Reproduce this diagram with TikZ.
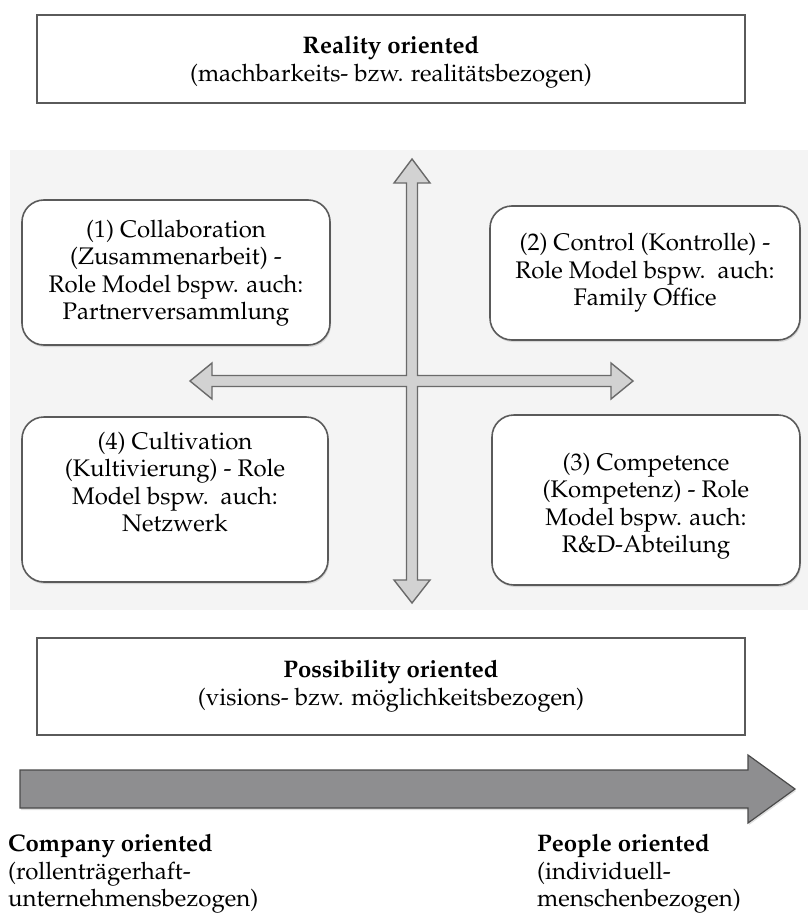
\documentclass[tikz,border=0pt]{standalone}
\usepackage[T1]{fontenc}
\usepackage{mathpazo}
\usetikzlibrary{shadows}
\definecolor{boxgray}{HTML}{5A5A5A}
\definecolor{panelgray}{HTML}{F4F4F4}
\definecolor{crossfill}{HTML}{D2D2D2}
\definecolor{crossline}{HTML}{6A6A6A}
\definecolor{bigfill}{HTML}{8E8E90}
\definecolor{bigline}{HTML}{4A4A4A}
\begin{document}
\begin{tikzpicture}[x=1pt,y=-1pt,
  every node/.style={font=\fontsize{24}{27.5}\selectfont, align=center, inner sep=0pt},
  plainbox/.style={draw=boxgray, line width=1.6pt, fill=white},
  roundbox/.style={draw=boxgray, line width=1.6pt, rounded corners=22pt, fill=white,
    drop shadow={shadow xshift=1pt, shadow yshift=-2pt, opacity=0.25}},
  crossarrow/.style={draw=crossline, line width=1.4pt, fill=crossfill, line join=miter},
  bigarrow/.style={draw=bigline, line width=1.2pt, fill=bigfill}]
\useasboundingbox (0,0) rectangle (808,915);
% panel
\fill[panelgray] (10,150) rectangle (808,610);
% top box
\node[plainbox, minimum width=708pt, minimum height=88pt] (topbox) at (391,59) {};
\node (toptext) at (391,62) {\textbf{Reality oriented}\\(machbarkeits- bzw. realit\"atsbezogen)};
% cross arrows
\draw[crossarrow] (412,159) -- (430,183) -- (417.5,183) -- (417.5,375.5) -- (611,375.5) -- (611,363) -- (633,381) -- (611,399) -- (611,386.5) -- (417.5,386.5) -- (417.5,580) -- (430,580) -- (412,603) -- (394,580) -- (406.5,580) -- (406.5,386.5) -- (212,386.5) -- (212,399) -- (190,381) -- (212,363) -- (212,375.5) -- (406.5,375.5) -- (406.5,183) -- (394,183) -- cycle;
% quadrant boxes
\node[roundbox, minimum width=308pt, minimum height=145pt] (c1) at (176,272.5) {};
\node (t1) at (176,273) {(1) Collaboration\\(Zusammenarbeit) -\\Role Model bspw. auch:\\Partnerversammlung};
\node[roundbox, minimum width=310pt, minimum height=134pt] (c2) at (645,273) {};
\node (t2) at (645,273) {(2) Control (Kontrolle) -\\Role Model bspw.\ \ auch:\\Family Office};
\node[roundbox, minimum width=306pt, minimum height=165pt] (c4) at (175,499.5) {};
\node (t4) at (175,482) {(4) Cultivation\\(Kultivierung) - Role\\Model bspw.\ \ auch:\\Netzwerk};
\node[roundbox, minimum width=308pt, minimum height=170pt] (c3) at (646,500) {};
\node (t3) at (646,506) {(3) Competence\\(Kompetenz) - Role\\Model bspw. auch:\\R\&D-Abteilung};
% bottom box
\node[plainbox, minimum width=708pt, minimum height=97pt] (botbox) at (391,686.5) {};
\node (bottext) at (391,686) {\textbf{Possibility oriented}\\(visions- bzw. m\"oglichkeitsbezogen)};
% big arrow
\draw[bigarrow, drop shadow={shadow xshift=1pt, shadow yshift=-2pt, opacity=0.25}] (20,770) -- (748,770) -- (748,755) -- (795,789) -- (748,823) -- (748,808) -- (20,808) -- cycle;
% bottom labels
\node[anchor=north west, align=left] (company) at (8,834) {\textbf{Company oriented}\\(rollentr\"agerhaft-\\unternehmensbezogen)};
\node[anchor=north west, align=left] (people) at (537,834) {\textbf{People oriented}\\(individuell-\\menschenbezogen)};
\end{tikzpicture}
\end{document}
